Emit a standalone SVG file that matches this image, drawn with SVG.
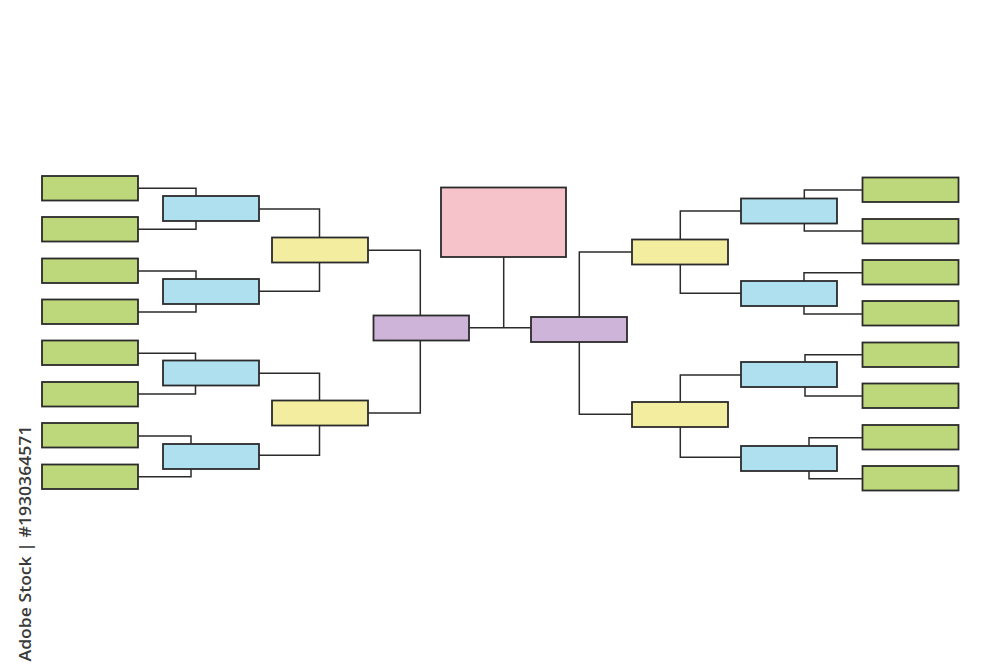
<svg xmlns="http://www.w3.org/2000/svg" width="1000" height="667" viewBox="0 0 1000 667">
<style>
.b{stroke:#2b2b2b;stroke-width:1.8}
.g{fill:#bdd77b}
.bl{fill:#aee0f0}
.y{fill:#f3ed9f}
.p{fill:#cdb4d8}
.k{fill:#f7c3cb}
#connectors path{fill:none;stroke:#2b2b2b;stroke-width:1.5}
.wm{font-family:"Open Sans","DejaVu Sans",sans-serif;font-weight:600;fill:#3a3a3a}
</style>
<rect width="1000" height="667" fill="#ffffff"/>
<g id="connectors">
<path d="M138 188.3H196V196M138 229.3H196V221M138 271H196V279M138 312H196V304"/>
<path d="M138 353.3H195.5V360.5M138 394H195.5V385.5M138 436H191V444M138 476.7H191V469"/>
<path d="M259 209H319.5V237.5M259 291.3H319.5V262.5M259 373.3H319.5V400.5M259 455.3H319.5V425.5"/>
<path d="M368 250.3H420.3V315.5M368 413H420.3V340.5"/>
<path d="M503.7 257V327.7M469 327.7H531"/>
<path d="M579.3 317V252H632M579.3 342V414.3H632"/>
<path d="M680.3 239.5V211H741M680.3 264.5V293.3H741M680.3 402V375H741M680.3 427V457.3H741"/>
<path d="M804.3 198.5V190H862.5M804.3 223.5V231H862.5M804 281V272.7H862.5M804 306V314H862.5"/>
<path d="M805 362V354.7H862.5M805 387V396H862.5M809 446V437.7H862.5M809 471V478.7H862.5"/>
</g>
<g id="final"><rect class="b k" x="441" y="187.5" width="125" height="69.5"/></g>
<g id="semi-left"><rect class="b p" x="373.5" y="315.5" width="95.5" height="25"/></g>
<g id="semi-right"><rect class="b p" x="531" y="317" width="96" height="25"/></g>
<g id="qf-left-1"><rect class="b y" x="272" y="237.5" width="96" height="25"/></g>
<g id="qf-left-2"><rect class="b y" x="272" y="400.5" width="96" height="25"/></g>
<g id="qf-right-1"><rect class="b y" x="632" y="239.5" width="96" height="25"/></g>
<g id="qf-right-2"><rect class="b y" x="632" y="402" width="96" height="25"/></g>
<g id="r16-left-1"><rect class="b bl" x="163" y="196" width="96" height="25"/></g>
<g id="r16-left-2"><rect class="b bl" x="163" y="279" width="96" height="25"/></g>
<g id="r16-left-3"><rect class="b bl" x="163" y="360.5" width="96" height="25"/></g>
<g id="r16-left-4"><rect class="b bl" x="163" y="444" width="96" height="25"/></g>
<g id="r16-right-1"><rect class="b bl" x="741" y="198.5" width="96" height="25"/></g>
<g id="r16-right-2"><rect class="b bl" x="741" y="281" width="96" height="25"/></g>
<g id="r16-right-3"><rect class="b bl" x="741" y="362" width="96" height="25"/></g>
<g id="r16-right-4"><rect class="b bl" x="741" y="446" width="96" height="25"/></g>
<g id="left-1"><rect class="b g" x="42" y="176" width="96" height="24.5"/></g>
<g id="left-2"><rect class="b g" x="42" y="217" width="96" height="24.5"/></g>
<g id="left-3"><rect class="b g" x="42" y="258.5" width="96" height="24.5"/></g>
<g id="left-4"><rect class="b g" x="42" y="299.5" width="96" height="24.5"/></g>
<g id="left-5"><rect class="b g" x="42" y="340.5" width="96" height="24.5"/></g>
<g id="left-6"><rect class="b g" x="42" y="382" width="96" height="24.5"/></g>
<g id="left-7"><rect class="b g" x="42" y="423" width="96" height="24.5"/></g>
<g id="left-8"><rect class="b g" x="42" y="464.5" width="96" height="24.5"/></g>
<g id="right-1"><rect class="b g" x="862.5" y="177.5" width="96" height="24.5"/></g>
<g id="right-2"><rect class="b g" x="862.5" y="219" width="96" height="24.5"/></g>
<g id="right-3"><rect class="b g" x="862.5" y="260" width="96" height="24.5"/></g>
<g id="right-4"><rect class="b g" x="862.5" y="301" width="96" height="24.5"/></g>
<g id="right-5"><rect class="b g" x="862.5" y="342.5" width="96" height="24.5"/></g>
<g id="right-6"><rect class="b g" x="862.5" y="383.5" width="96" height="24.5"/></g>
<g id="right-7"><rect class="b g" x="862.5" y="425" width="96" height="24.5"/></g>
<g id="right-8"><rect class="b g" x="862.5" y="466" width="96" height="24.5"/></g>
<text class="wm" transform="translate(31,543.5) rotate(-90)" text-anchor="middle" font-size="17" textLength="236" lengthAdjust="spacingAndGlyphs">Adobe Stock | #1930364571</text>
</svg>
